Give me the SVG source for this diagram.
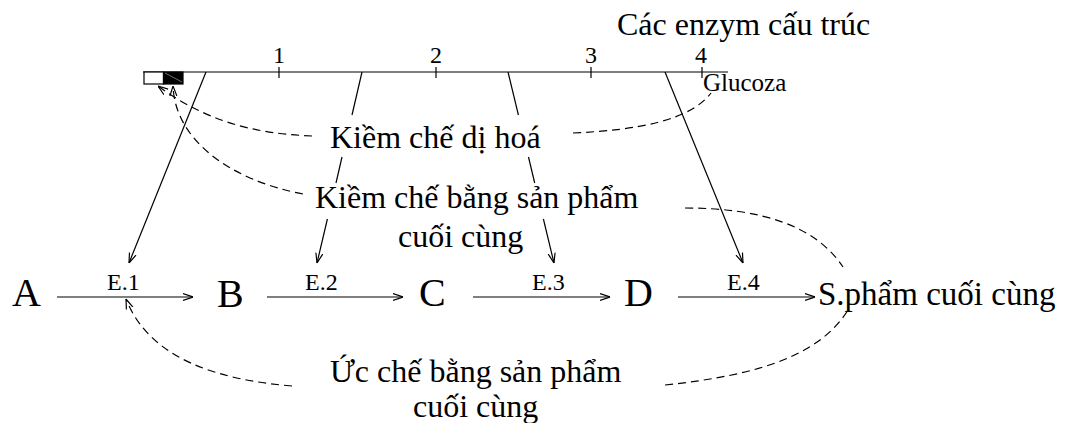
<svg xmlns="http://www.w3.org/2000/svg" width="1070" height="423" viewBox="0 0 1070 423">
<style>
text{font-family:"Liberation Serif","Times New Roman",serif;fill:#000}
.big{font-size:40px}
.lab{font-size:32px}
.sm{font-size:24px}
.e{font-size:24px}
.ln{stroke:#000;stroke-width:1.2;fill:none}
.ds{stroke:#000;stroke-width:1.2;fill:none;stroke-dasharray:8 5}
</style>
<defs>
<marker id="ah" viewBox="0 0 10 10" refX="10" refY="5" markerWidth="10" markerHeight="10" markerUnits="userSpaceOnUse" orient="auto">
<path d="M0,1.5 L10,5 L0,8.5" fill="none" stroke="#000" stroke-width="1.2"/>
</marker>
</defs>
<g id="gene">
<line x1="143" y1="72" x2="728" y2="72" class="ln"/>
<rect x="144" y="72" width="19.5" height="12" fill="#fff" stroke="#000" stroke-width="1.2"/>
<rect x="163.5" y="72" width="19.5" height="12" fill="#000" stroke="#000" stroke-width="1.2"/>
<line x1="165" y1="73" x2="182" y2="82" stroke="#888" stroke-width="0.8"/>
<line x1="279" y1="67" x2="279" y2="78" class="ln"/>
<line x1="436" y1="67" x2="436" y2="78" class="ln"/>
<line x1="591" y1="67" x2="591" y2="78" class="ln"/>
<line x1="702" y1="67" x2="702" y2="78" class="ln"/>
<text x="279" y="63" class="sm" text-anchor="middle">1</text>
<text x="436" y="63" class="sm" text-anchor="middle">2</text>
<text x="591" y="63" class="sm" text-anchor="middle">3</text>
<text x="701" y="63" class="sm" text-anchor="middle">4</text>
</g>
<g id="title"><text x="617" y="35" class="lab">Các enzym cấu trúc</text></g>
<g id="glucoza"><text x="703" y="91" font-size="25">Glucoza</text></g>
<g id="kiem-che-di-hoa"><text x="330" y="148" class="lab">Kiềm chế dị hoá</text></g>
<g id="kiem-che-san-pham"><text x="315" y="208" class="lab">Kiềm chế bằng sản phẩm</text><text x="398" y="247" class="lab">cuối cùng</text></g>
<g id="uc-che"><text x="330" y="382" class="lab">Ức chế bằng sản phẩm</text><text x="413" y="417" class="lab">cuối cùng</text></g>
<g id="A"><text x="12" y="306" class="big">A</text></g>
<g id="B"><text x="217" y="307" class="big">B</text></g>
<g id="C"><text x="419" y="306" class="big">C</text></g>
<g id="D"><text x="624" y="306" class="big">D</text></g>
<g id="S"><text x="818" y="305" font-size="33">S.phẩm cuối cùng</text></g>
<g id="connectors">
<line x1="57" y1="297" x2="193" y2="297" class="ln" marker-end="url(#ah)"/>
<line x1="267" y1="297" x2="403" y2="297" class="ln" marker-end="url(#ah)"/>
<line x1="473" y1="297" x2="610" y2="297" class="ln" marker-end="url(#ah)"/>
<line x1="678" y1="297" x2="815" y2="297" class="ln" marker-end="url(#ah)"/>
<text x="107" y="290" class="e">E.1</text>
<text x="305" y="290" class="e">E.2</text>
<text x="532" y="290" class="e">E.3</text>
<text x="727" y="290" class="e">E.4</text>
<line x1="206" y1="72" x2="129" y2="263" class="ln" marker-end="url(#ah)"/>
<line x1="362" y1="72" x2="352" y2="115" class="ln"/>
<line x1="342" y1="157" x2="336" y2="183" class="ln"/>
<line x1="327.4" y1="219" x2="317" y2="263" class="ln" marker-end="url(#ah)"/>
<line x1="508" y1="72" x2="518.4" y2="115" class="ln"/>
<line x1="528.5" y1="157" x2="534.7" y2="183" class="ln"/>
<line x1="543.4" y1="219" x2="554" y2="263" class="ln" marker-end="url(#ah)"/>
<line x1="665" y1="72" x2="743" y2="263" class="ln" marker-end="url(#ah)"/>
<path d="M312,136 C270,134 215,128 158,86" class="ds" marker-end="url(#ah)"/>
<path d="M573,133 C640,130 690,120 711,93" class="ds"/>
<path d="M303,194 C230,180 175,140 173,86" class="ds" marker-end="url(#ah)"/>
<path d="M685,208 C760,208 815,225 843,267" class="ds"/>
<path d="M292,386 C220,380 150,360 126,299" class="ds" marker-end="url(#ah)"/>
<path d="M665,385 C760,375 820,355 848,310" class="ds"/>
</g>
</svg>
